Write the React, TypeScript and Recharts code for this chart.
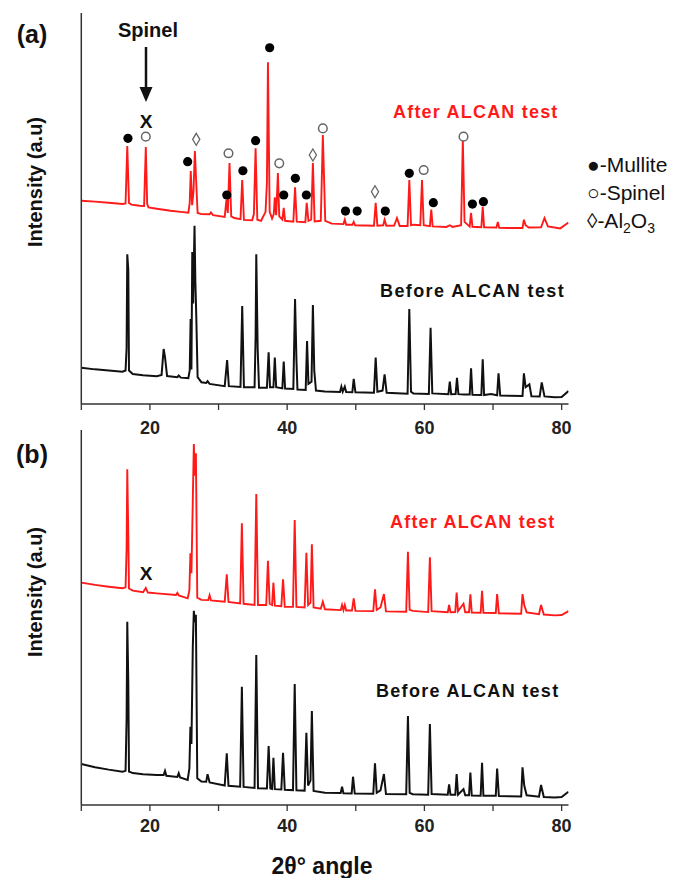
import React from "react";
import { ComposedChart, Line, Scatter, XAxis, YAxis } from "recharts";

// 2-theta (deg) vs intensity (arbitrary units, offset traces)
const afterA: [number, number][] = [
  [10, 1820], [12, 1812], [14, 1802], [16, 1790], [16.45, 1795], [16.7, 2310], [16.85, 2000], [16.95, 1800],
  [17.3, 1785], [18.5, 1775], [19.15, 1772], [19.4, 2300], [19.6, 1790], [19.8, 1760], [21, 1748], [23, 1730],
  [24.5, 1720], [25.6, 1712], [25.8, 1800], [25.95, 2085], [26.15, 1780], [26.35, 1900], [26.55, 2264], [26.75, 1980],
  [26.95, 1710], [27.5, 1700], [28.7, 1698], [28.9, 1715], [29.2, 1690], [30.9, 1675], [31.15, 1830], [31.35, 1710],
  [31.6, 2157], [31.85, 1680], [32.3, 1665], [33.2, 1655], [33.45, 2005], [33.7, 1648], [34.9, 1645], [35.15, 1700],
  [35.4, 2290], [35.65, 1650], [36.2, 1640], [36.85, 1720], [37.05, 1980], [37.2, 3060], [37.45, 1720], [37.8, 1660],
  [38.05, 1700], [38.2, 1850], [38.4, 1690], [38.65, 2067], [38.85, 1680], [39.3, 1650], [39.5, 1755], [39.7, 1640],
  [40.9, 1632], [41.15, 1940], [41.4, 1632], [42.65, 1628], [42.85, 1800], [43.1, 1640], [43.5, 1650], [43.75, 2157],
  [44, 1635], [44.9, 1640], [45.2, 2408], [45.55, 1640], [46.5, 1615], [48.2, 1610], [48.4, 1650], [48.6, 1605],
  [49.5, 1604], [49.7, 1630], [49.9, 1600], [52.65, 1596], [52.9, 1800], [53.15, 1596], [54, 1600], [54.2, 1650],
  [54.45, 1596], [55.6, 1598], [56, 1665], [56.4, 1594], [57.55, 1594], [57.8, 2005], [58.05, 1600], [58.4, 1605],
  [59.4, 1600], [59.65, 2005], [59.9, 1600], [60.8, 1592], [61, 1740], [61.2, 1590], [63.2, 1585], [63.7, 1600],
  [64.1, 1585], [65.35, 1600], [65.6, 2363], [65.85, 1630], [66.6, 1588], [66.8, 1710], [67, 1586], [68.3, 1582],
  [68.5, 1765], [68.7, 1582], [70.5, 1580], [70.7, 1630], [70.9, 1578], [72.5, 1575], [74.3, 1576], [74.5, 1650],
  [74.75, 1600], [75.2, 1580], [77, 1582], [77.5, 1665], [78, 1590], [79.8, 1572], [81, 1625],
];

const beforeA: [number, number][] = [
  [10, 325], [12, 310], [14, 300], [16, 289], [16.45, 300], [16.6, 500], [16.7, 1340], [16.85, 1200], [16.95, 300],
  [17.5, 268], [19, 258], [21, 248], [21.7, 260], [22, 492], [22.2, 420], [22.5, 250], [24, 240], [24.2, 255],
  [24.5, 236], [25.6, 232], [25.8, 300], [25.93, 760], [26.05, 310], [26.17, 1360], [26.3, 900], [26.5, 1595],
  [26.62, 1100], [26.75, 800], [26.95, 240], [27.5, 195], [28.2, 188], [28.4, 205], [28.7, 180], [30.9, 160],
  [31.25, 394], [31.5, 160], [33.2, 152], [33.45, 877], [33.7, 150], [35.25, 150], [35.4, 600], [35.5, 1340],
  [35.7, 500], [35.9, 145], [37.05, 145], [37.3, 463], [37.5, 150], [38, 150], [38.2, 415], [38.4, 150],
  [39.3, 140], [39.5, 379], [39.7, 138], [40.9, 135], [41.15, 940], [41.35, 400], [41.5, 130], [42.7, 125],
  [42.9, 564], [43.1, 180], [43.55, 200], [43.75, 886], [43.95, 300], [44.2, 120], [45.5, 112], [47.7, 108],
  [47.9, 155], [48.1, 110], [48.4, 155], [48.6, 108], [49.5, 105], [49.7, 224], [49.95, 105], [52.65, 100],
  [52.9, 415], [53.15, 110], [53.9, 120], [54.2, 266], [54.5, 100], [57.55, 92], [57.8, 850], [58.05, 110],
  [58.4, 95], [60.65, 90], [60.9, 683], [61.15, 95], [63.5, 88], [63.7, 200], [63.9, 88], [64.55, 90],
  [64.75, 235], [64.95, 88], [65.8, 85], [66.6, 85], [66.8, 319], [67, 82], [68.3, 80], [68.5, 400], [68.7, 80],
  [69.7, 90], [70.6, 78], [70.8, 275], [71.05, 75], [74.3, 72], [74.5, 275], [74.75, 150], [75.3, 176],
  [75.6, 70], [76.8, 68], [77.1, 194], [77.5, 68], [79, 60], [80, 62], [81, 116],
];

const afterB: [number, number][] = [
  [10, 1823], [12, 1805], [14, 1790], [16, 1777], [16.45, 1785], [16.6, 2100], [16.7, 2753], [16.85, 2200],
  [16.95, 1775], [17.5, 1758], [19, 1745], [19.4, 1780], [19.7, 1742], [21, 1735], [23.8, 1722], [24, 1740],
  [24.2, 1718], [25.5, 1695], [25.75, 1760], [25.9, 2064], [26.05, 1900], [26.25, 2500], [26.4, 2960],
  [26.55, 2700], [26.7, 2884], [26.9, 1700], [27.5, 1682], [28.5, 1680], [28.7, 1720], [28.9, 1678], [30.9, 1667],
  [31.2, 1892], [31.45, 1665], [33.15, 1652], [33.4, 2310], [33.65, 1650], [35.25, 1640], [35.5, 2550],
  [35.75, 1640], [36.95, 1640], [37.2, 2003], [37.45, 1650], [37.8, 1640], [38, 1823], [38.2, 1635],
  [39.15, 1630], [39.4, 1851], [39.65, 1625], [40.85, 1625], [41.1, 2337], [41.35, 1625], [42.55, 1620],
  [42.8, 2069], [43.05, 1640], [43.4, 1660], [43.6, 2138], [43.85, 1620], [44.9, 1610], [45.2, 1667],
  [45.5, 1605], [47.8, 1598], [48, 1640], [48.2, 1598], [48.4, 1640], [48.6, 1595], [49.45, 1595], [49.7, 1695],
  [49.95, 1592], [52.55, 1590], [52.8, 1769], [53.05, 1600], [53.6, 1620], [54.1, 1730], [54.4, 1588],
  [57.35, 1585], [57.6, 2077], [57.85, 1600], [58.3, 1592], [60.55, 1582], [60.8, 2031], [61.05, 1590],
  [63.4, 1580], [63.6, 1640], [63.8, 1580], [64.5, 1582], [64.7, 1741], [64.9, 1590], [65.7, 1650], [65.95, 1580],
  [66.5, 1580], [66.7, 1728], [66.9, 1578], [68.2, 1576], [68.4, 1757], [68.6, 1576], [70.4, 1574], [70.6, 1730],
  [70.85, 1572], [74.1, 1568], [74.3, 1730], [74.55, 1640], [74.9, 1580], [76.7, 1565], [77, 1640], [77.4, 1562],
  [79, 1555], [80, 1558], [81, 1590],
];

const beforeB: [number, number][] = [
  [10, 336], [12, 310], [14, 290], [16, 273], [16.45, 280], [16.6, 700], [16.7, 1503], [16.85, 1000], [16.95, 275],
  [17.5, 262], [19, 252], [21, 245], [22, 245], [22.2, 280], [22.4, 240], [24, 230], [24.2, 260], [24.4, 225],
  [25.5, 205], [25.75, 300], [25.9, 642], [26.05, 500], [26.25, 1300], [26.4, 1593], [26.55, 1500], [26.7, 1560],
  [26.9, 220], [27.5, 192], [28.2, 190], [28.4, 253], [28.7, 185], [30.9, 160], [31.2, 424], [31.45, 158],
  [33.15, 150], [33.4, 970], [33.65, 148], [35.25, 140], [35.5, 1230], [35.75, 138], [37.05, 135], [37.3, 484],
  [37.55, 135], [37.8, 132], [38, 388], [38.2, 130], [39.15, 128], [39.4, 429], [39.65, 125], [40.85, 122],
  [41.1, 992], [41.35, 120], [42.55, 118], [42.8, 593], [43.05, 160], [43.4, 200], [43.6, 771], [43.85, 115],
  [45.5, 101], [47.8, 98], [48, 150], [48.2, 96], [49.4, 95], [49.6, 232], [49.85, 94], [52.55, 92], [52.8, 342],
  [53.05, 100], [53.6, 120], [54.1, 254], [54.4, 90], [57.35, 88], [57.6, 730], [57.85, 100], [58.3, 88],
  [60.55, 85], [60.8, 664], [61.05, 90], [63.4, 84], [63.6, 170], [63.8, 84], [64.5, 84], [64.7, 254], [64.9, 84],
  [65.7, 130], [65.95, 80], [66.5, 80], [66.7, 265], [66.9, 78], [68.2, 76], [68.4, 347], [68.6, 76], [70.4, 75],
  [70.6, 298], [70.85, 73], [74.1, 70], [74.3, 309], [74.55, 160], [74.9, 80], [76.7, 68], [77, 164], [77.4, 66],
  [79, 62], [80, 65], [81, 109],
];

// phase markers above the "after" trace in (a)
const mulliteMarks: [number, number][] = [
  [16.8, 2378], [25.5, 2169], [31.2, 1871], [33.55, 2088], [35.4, 2357], [37.45, 3189], [39.5, 1871], [41.2, 2020],
  [42.8, 1871], [48.5, 1727], [50.2, 1727], [54.3, 1727], [57.8, 2065], [61.3, 1802], [67.0, 1790], [68.6, 1811],
];
const spinelMarks: [number, number][] = [
  [19.4, 2393], [31.45, 2244], [38.85, 2154], [45.2, 2467], [59.9, 2094], [65.7, 2393],
];
const aluminaMarks: [number, number][] = [[26.75, 2369], [43.75, 2229], [52.8, 1900]];

const xTicks = [10, 20, 30, 40, 50, 60, 70, 80];
const yTicksA = [0, 500, 1000, 1500, 2000, 2500, 3000, 3500];
const yTicksB = [0, 500, 1000, 1500, 2000, 2500, 3000];

const toRows = (pts: [number, number][]) => pts.map(([x, y]) => ({ x, y }));

const FONT = "'Liberation Sans', Arial, sans-serif";
const RED = "#ff1a1a";
const BLACK = "#111";
const AXIS = "#333";

const Mullite = (p: any) => <circle cx={p.cx} cy={p.cy} r={4.6} fill="#000" />;
const Spinel = (p: any) => (
  <circle cx={p.cx} cy={p.cy} r={4.3} fill="#fff" stroke="#666" strokeWidth={1.5} />
);
const Alumina = (p: any) => (
  <polygon
    points={`${p.cx},${p.cy - 6} ${p.cx + 3.6},${p.cy} ${p.cx},${p.cy + 6} ${p.cx - 3.6},${p.cy}`}
    fill="#fff"
    stroke="#666"
    strokeWidth={1.3}
  />
);

const xTickFmt = (v: number) => (v % 20 === 0 ? String(v) : "");

function Panel({
  after,
  before,
  yMax,
  yTicks,
  marginTop,
  marginBottom,
  tickMargin,
  marks,
}: {
  after: [number, number][];
  before: [number, number][];
  yMax: number;
  yTicks: number[];
  marginTop: number;
  marginBottom: number;
  tickMargin: number;
  marks: boolean;
}) {
  return (
    <ComposedChart
      width={684}
      height={440}
      margin={{ top: marginTop, right: 115.5, bottom: marginBottom, left: 61.3 }}
    >
      <XAxis
        type="number"
        dataKey="x"
        domain={[10, 81]}
        ticks={xTicks}
        allowDataOverflow
        height={30}
        tickSize={6}
        tickMargin={tickMargin}
        tickFormatter={xTickFmt}
        axisLine={{ stroke: AXIS, strokeWidth: 1.5 }}
        tickLine={{ stroke: AXIS, strokeWidth: 1.3 }}
        tick={{ fontFamily: FONT, fontSize: 18, fontWeight: "bold", fill: "#222" }}
      />
      <YAxis
        type="number"
        dataKey="y"
        domain={[0, yMax]}
        ticks={yTicks}
        allowDataOverflow
        width={20}
        tickSize={5}
        tick={false}
        axisLine={{ stroke: AXIS, strokeWidth: 1.5 }}
        tickLine={{ stroke: AXIS, strokeWidth: 1.2 }}
      />
      <Line
        data={toRows(before)}
        dataKey="y"
        type="linear"
        stroke={BLACK}
        strokeWidth={2}
        dot={false}
        activeDot={false}
        isAnimationActive={false}
      />
      <Line
        data={toRows(after)}
        dataKey="y"
        type="linear"
        stroke={RED}
        strokeWidth={1.9}
        dot={false}
        activeDot={false}
        isAnimationActive={false}
      />
      {marks && (
        <Scatter data={toRows(mulliteMarks)} shape={Mullite} isAnimationActive={false} />
      )}
      {marks && (
        <Scatter data={toRows(spinelMarks)} shape={Spinel} isAnimationActive={false} />
      )}
      {marks && (
        <Scatter data={toRows(aluminaMarks)} shape={Alumina} isAnimationActive={false} />
      )}
    </ComposedChart>
  );
}

export default function App() {
  const bold = { fontFamily: FONT, fontWeight: "bold" as const };
  return (
    <div style={{ position: "absolute", left: 0, top: 0, width: 684, height: 878, background: "#fff", overflow: "hidden" }}>
      <div style={{ position: "absolute", left: 0, top: 0 }}>
        <Panel
          after={afterA}
          before={beforeA}
          yMax={3500}
          yTicks={yTicksA}
          marginTop={13}
          marginBottom={6}
          tickMargin={11}
          marks
        />
      </div>
      <div style={{ position: "absolute", left: 0, top: 425 }}>
        <Panel
          after={afterB}
          before={beforeB}
          yMax={3075}
          yTicks={yTicksB}
          marginTop={5}
          marginBottom={30}
          tickMargin={8.5}
          marks={false}
        />
      </div>
      <svg
        width={684}
        height={878}
        style={{ position: "absolute", left: 0, top: 0, pointerEvents: "none" }}
      >
        <text x={32} y={43} textAnchor="middle" fontSize={25} {...bold} fill="#111">(a)</text>
        <text x={32} y={463} textAnchor="middle" fontSize={25} {...bold} fill="#111">(b)</text>

        <text x={148} y={37} textAnchor="middle" fontSize={20} {...bold} fill="#111">Spinel</text>
        <line x1={146} y1={47} x2={146} y2={89} stroke="#111" strokeWidth={2.5} />
        <polygon points="139.5,87 152.5,87 146,102" fill="#111" />
        <text x={146} y={128} textAnchor="middle" fontSize={19} {...bold} fill="#111">X</text>
        <text x={146} y={580} textAnchor="middle" fontSize={19} {...bold} fill="#111">X</text>

        <text x={42} y={182} transform="rotate(-90 42 182)" textAnchor="middle" fontSize={20} {...bold} fill="#111">
          Intensity (a.u)
        </text>
        <text x={42} y={592} transform="rotate(-90 42 592)" textAnchor="middle" fontSize={20} {...bold} fill="#111">
          Intensity (a.u)
        </text>

        <text x={393} y={118} fontSize={18} letterSpacing={1.2} {...bold} fill={RED}>After ALCAN test</text>
        <text x={380} y={297} fontSize={18} letterSpacing={1.4} {...bold} fill="#111">Before ALCAN test</text>
        <text x={390} y={528} fontSize={18} letterSpacing={1.2} {...bold} fill={RED}>After ALCAN test</text>
        <text x={376} y={697} fontSize={18} letterSpacing={1.3} {...bold} fill="#111">Before ALCAN test</text>

        <g fontFamily={FONT} fontSize={21} fill="#111">
          <text x={587} y={172}>●-Mullite</text>
          <text x={587} y={200}>○-Spinel</text>
          <text x={587} y={228}>
            ◊-Al<tspan fontSize={14} dy={5}>2</tspan>
            <tspan dy={-5}>O</tspan>
            <tspan fontSize={14} dy={5}>3</tspan>
          </text>
        </g>

        <text x={322} y={874} textAnchor="middle" fontSize={23} {...bold} fill="#111">
          2θ° angle
        </text>
      </svg>
    </div>
  );
}
